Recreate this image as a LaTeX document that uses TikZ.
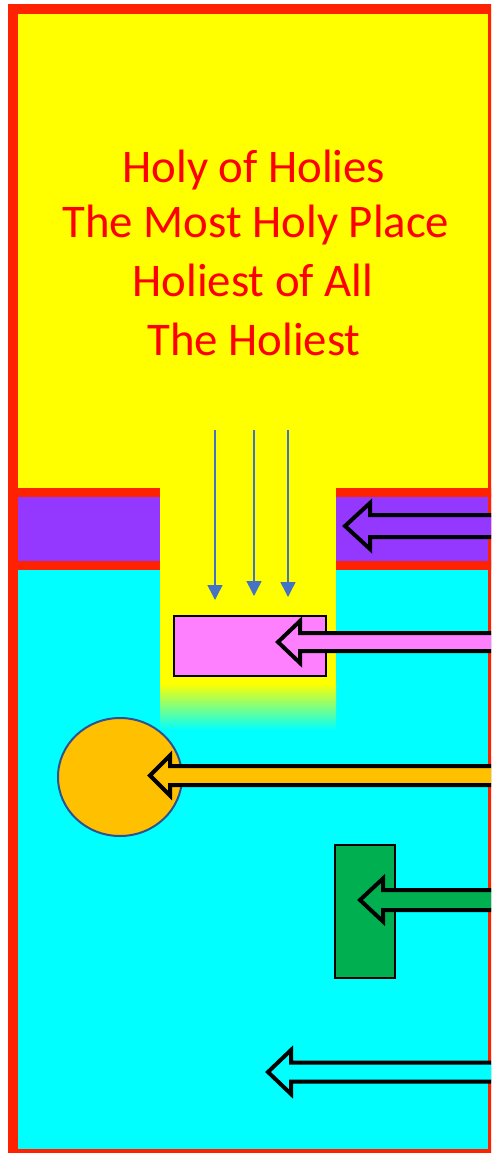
\documentclass[tikz,border=0pt]{standalone}
\usepackage{fontspec}
\setmainfont{Carlito}
\usetikzlibrary{arrows.meta,shapes.geometric}
\definecolor{wallred}{RGB}{255,34,0}
\definecolor{veilpurple}{RGB}{148,56,255}
\definecolor{roomcyan}{RGB}{0,255,255}
\definecolor{roomyellow}{RGB}{255,255,0}
\definecolor{altarpink}{RGB}{255,128,255}
\definecolor{lampgold}{RGB}{255,192,0}
\definecolor{tablegreen}{RGB}{0,176,80}
\definecolor{rayblue}{RGB}{68,114,196}
\definecolor{rimblue}{RGB}{47,82,143}
\definecolor{titlered}{RGB}{255,0,0}
\tikzset{
  wall/.style={draw=wallred, line width=9.5pt},
  ray/.style={draw=rayblue, line width=1.5pt, -{Triangle[width=15pt,length=15pt]}},
  arrowline/.style={draw=black, line width=4pt, line join=miter},
  item/.style={draw=black, line width=2pt, inner sep=0pt, outer sep=0pt},
  title/.style={text=titlered, anchor=base, inner sep=0pt, font=\fontsize{46.8}{46.8}\selectfont}
}
\newcommand{\blockarr}[6]{%
  \draw[arrowline, fill=#6] (500,#2-#4) -- (#3,#2-#4) -- (#3,#2-#5) -- (#1,#2)
    -- (#3,#2+#5) -- (#3,#2+#4) -- (500,#2+#4) -- cycle;}
\begin{document}
\begin{tikzpicture}[x=1pt,y=-1pt]
\useasboundingbox (0,0) rectangle (491,1153);
\clip (0,0) rectangle (491,1153);
\fill[white] (0,0) rectangle (491,1153);
% rooms
\draw[wall, fill=roomyellow] (13,9) rectangle (493,492.5);
\draw[wall, fill=veilpurple] (13,492.5) rectangle (493,565.5);
\draw[wall, fill=roomcyan] (13,565.5) rectangle (493,1154);
% light channel
\fill[roomyellow] (160,470) rectangle (336,684);
\shade[top color=roomyellow, bottom color=roomcyan] (160,683.5) rectangle (336,730);
% title
\node[title] (t1) at (254,182) {Holy of Holies};
\node[title] (t2) at (256,237) {The Most Holy Place};
\node[title] (t3) at (253,296) {Holiest of All};
\node[title] (t4) at (254,355) {The Holiest};
% rays
\coordinate (r1s) at (215,430); \coordinate (r1e) at (215,600);
\coordinate (r2s) at (254,430); \coordinate (r2e) at (254,596);
\coordinate (r3s) at (288,430); \coordinate (r3e) at (288,597);
\draw[ray] (r1s) -- (r1e);
\draw[ray] (r2s) -- (r2e);
\draw[ray] (r3s) -- (r3e);
% furniture
\node[item, fill=altarpink, minimum width=152pt, minimum height=60pt] (altar) at (250,646) {};
\node[item, ellipse, draw=rimblue, fill=lampgold, minimum width=124pt, minimum height=118pt] (lamp) at (120,777) {};
\node[item, fill=tablegreen, minimum width=60pt, minimum height=133pt] (table) at (365,911.5) {};
% block arrows: tip x, centre y, head base x, shaft half, head half, fill
\blockarr{345}{526}{370}{11}{23}{veilpurple}
\blockarr{278}{642}{300}{9}{21}{altarpink}
\blockarr{150}{775.5}{170}{9.5}{20}{lampgold}
\blockarr{360}{900}{383}{10}{21.5}{tablegreen}
\blockarr{268}{1072}{291}{9.5}{22}{roomcyan}
\end{tikzpicture}
\end{document}
